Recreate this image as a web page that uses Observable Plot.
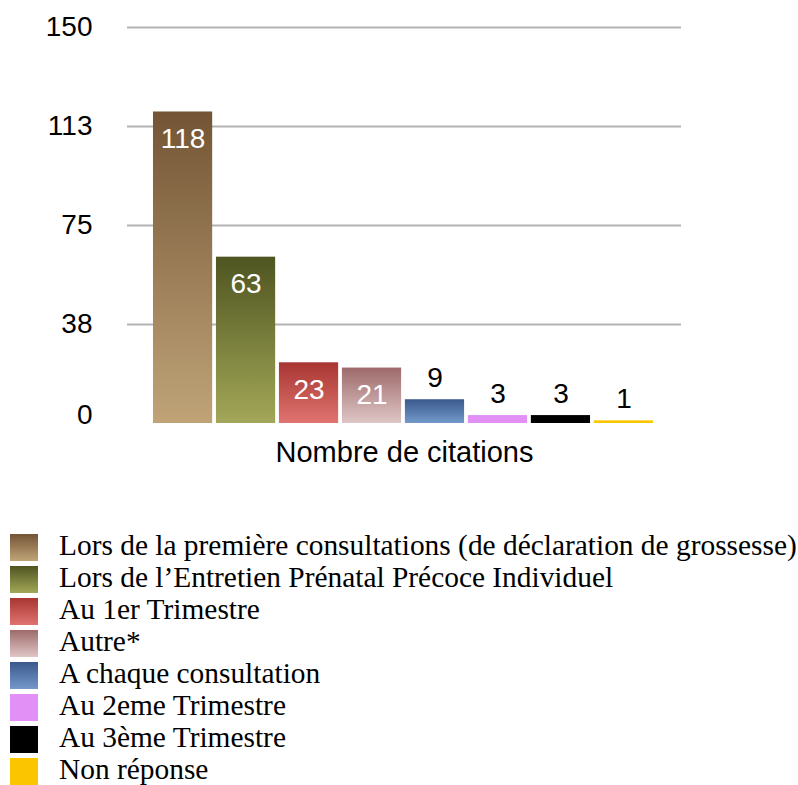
<!DOCTYPE html>
<html>
<head>
<meta charset="utf-8">
<script src="https://cdn.jsdelivr.net/npm/d3@7"></script>
<script src="https://cdn.jsdelivr.net/npm/@observablehq/plot@0.6"></script>
<style>
  html, body { margin: 0; padding: 0; background: #fff; }
  #chart svg { display: block; }
  g[aria-label="inner-labels"] text { text-shadow: 0 2px 4px rgba(0,0,0,0.55); }
  g[aria-label="outer-labels"] text { text-shadow: 0 3px 4px rgba(0,0,0,0.35); }
  #legend { margin-top: 39px; padding-left: 10px; font-family: "Liberation Serif", "Times New Roman", serif; font-size: 29.4px; color: #000; }
  .row { display: flex; align-items: flex-start; height: 32px; line-height: 32px; white-space: nowrap; }
  .sw { width: 28px; height: 27px; margin-top: 5px; margin-right: 21px; flex: none; }
</style>
</head>
<body>
<div id="chart"></div>
<div id="legend"></div>
<script>
const categories = [
  "Lors de la première consultations (de déclaration de grossesse)",
  "Lors de l’Entretien Prénatal Précoce Individuel",
  "Au 1er Trimestre",
  "Autre*",
  "A chaque consultation",
  "Au 2eme Trimestre",
  "Au 3ème Trimestre",
  "Non réponse"
];
const values = [118, 63, 23, 21, 9, 3, 3, 1];
const gradTop = ["#735535", "#4e5520", "#a83632", "#9e6a6a", "#3b588b", "#e290f5", "#000000", "#fbc500"];
const gradBottom = ["#c0a478", "#a3a758", "#e07470", "#dfc6c6", "#7299ca", "#e290f5", "#000000", "#fbc500"];
const yTicks = [0, 37.5, 75, 112.5, 150];
const yTickLabels = ["0", "38", "75", "113", "150"];
const xTitle = "Nombre de citations";

const data = categories.map((c, i) => ({cat: c, value: values[i]}));
const urls = categories.map((c, i) => `url(#grad${i})`);
const fmt = d => yTickLabels[yTicks.indexOf(d)];

const plot = Plot.plot({
  width: 798,
  height: 490,
  marginLeft: 127,
  marginRight: 117,
  marginTop: 27,
  marginBottom: 67,
  style: {fontFamily: "'Liberation Sans', Arial, Helvetica, sans-serif", background: "#fff"},
  x: {domain: categories, range: [149.2, 656.8], padding: 0.06, round: false, axis: null},
  y: {domain: [0, 150], axis: null},
  color: {domain: categories, range: urls},
  marks: [
    Plot.ruleY(yTicks.slice(1), {stroke: "#b3b3b3", strokeWidth: 2}),
    Plot.axisY(yTicks.slice(1), {
      label: null, tickSize: 0, tickPadding: 35, fontSize: 28, fill: "#000", tickFormat: fmt
    }),
    Plot.axisY(yTicks.slice(0, 1), {
      label: null, tickSize: 0, tickPadding: 35, fontSize: 28, fill: "#000", tickFormat: fmt, dy: -8
    }),
    Plot.barY(data, {x: "cat", y: "value", fill: "cat"}),
    Plot.text(data.filter(d => d.value > 15), {
      x: "cat", y: "value", text: d => String(d.value), dy: 27,
      fill: "#fff", fontSize: 28, ariaLabel: "inner-labels"
    }),
    Plot.text(data.filter(d => d.value <= 15), {
      x: "cat", y: "value", text: d => String(d.value), dy: -22,
      fill: "#000", fontSize: 28, ariaLabel: "outer-labels"
    }),
    Plot.text([xTitle], {text: d => d, frameAnchor: "bottom", lineAnchor: "middle", dy: 29, fontSize: 29, fill: "#000"})
  ]
});

const defs = d3.select(plot).insert("defs", ":first-child");
categories.forEach((c, i) => {
  const g = defs.append("linearGradient").attr("id", `grad${i}`)
    .attr("x1", 0).attr("y1", 0).attr("x2", 0).attr("y2", 1);
  g.append("stop").attr("offset", "0%").attr("stop-color", gradTop[i]);
  g.append("stop").attr("offset", "100%").attr("stop-color", gradBottom[i]);
});

document.getElementById("chart").appendChild(plot);

const legend = document.getElementById("legend");
categories.forEach((c, i) => {
  const row = document.createElement("div");
  row.className = "row";
  const sw = document.createElement("div");
  sw.className = "sw";
  sw.style.background = `linear-gradient(to bottom, ${gradTop[i]}, ${gradBottom[i]})`;
  const lab = document.createElement("span");
  lab.textContent = c;
  row.appendChild(sw);
  row.appendChild(lab);
  legend.appendChild(row);
});
</script>
</body>
</html>
